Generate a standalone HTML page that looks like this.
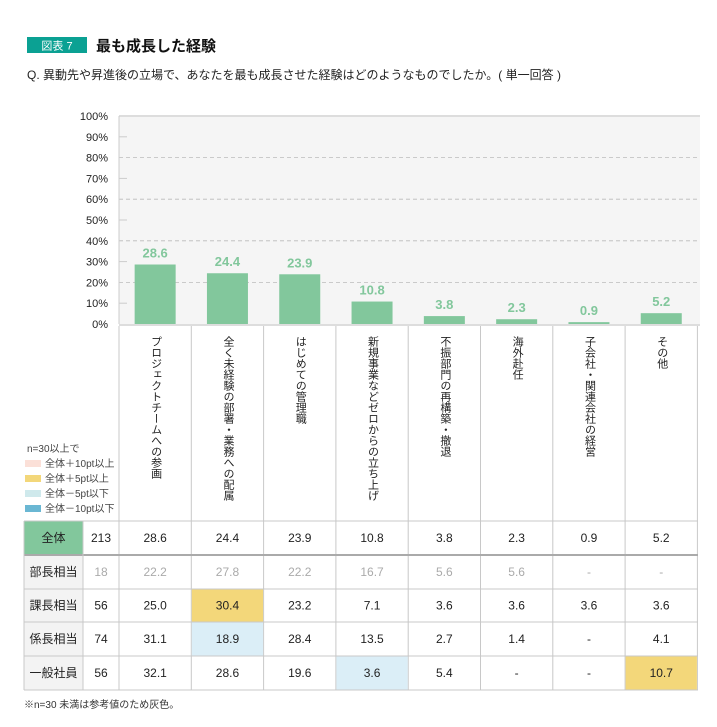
<!DOCTYPE html>
<html><head><meta charset="utf-8">
<style>
body{margin:0;background:#fff;}
#wrap{position:relative;width:717px;height:727px;overflow:hidden;font-family:"Liberation Sans","Noto Sans CJK JP",sans-serif;color:#222;}
.vl{position:absolute;writing-mode:vertical-rl;font-size:11px;line-height:13px;letter-spacing:0;color:#222;}
</style></head>
<body>
<div id="wrap">
<svg id="svg" width="717" height="727" style="position:absolute;left:0;top:0">
  <rect x="27" y="37" width="60" height="16" fill="#0ba193"/>
  <text x="57" y="49.5" font-size="11" fill="#fff" text-anchor="middle">図表 7</text>
  <text x="96" y="51" font-size="15" font-weight="bold" fill="#111">最も成長した経験</text>
  <text x="27" y="79" font-size="12" fill="#222">Q. 異動先や昇進後の立場で、あなたを最も成長させた経験はどのようなものでしたか。( 単一回答 )</text>
  <g id="plot"></g>
  <g id="table"></g>
  <g font-size="10" fill="#444">
    <text x="27" y="452">n=30以上で</text>
    <rect x="25" y="460" width="16" height="7" fill="#fbe0d8"/>
    <text x="45" y="467">全体＋10pt以上</text>
    <rect x="25" y="475" width="16" height="7" fill="#f3d77a"/>
    <text x="45" y="482">全体＋5pt以上</text>
    <rect x="25" y="490" width="16" height="7" fill="#cfe9ec"/>
    <text x="45" y="497">全体－5pt以下</text>
    <rect x="25" y="505" width="16" height="7" fill="#6ab7d3"/>
    <text x="45" y="512">全体－10pt以下</text>
  </g>
  <text x="24" y="708" font-size="10" fill="#333">※n=30 未満は参考値のため灰色。</text>
</svg>
<div id="labels"></div>
</div>
<script>
const categories=["プロジェクトチームへの参画","全く未経験の部署・業務への配属","はじめての管理職","新規事業などゼロからの立ち上げ","不振部門の再構築・撤退","海外赴任","子会社・関連会社の経営","その他"];
const totalValues=[28.6,24.4,23.9,10.8,3.8,2.3,0.9,5.2];
const yTicks=[0,10,20,30,40,50,60,70,80,90,100];
const rowLabels=["部長相当","課長相当","係長相当","一般社員"];
const rowN=[18,56,74,56];
const rowBucho=["22.2","27.8","22.2","16.7","5.6","5.6","-","-"];
const rowKacho=["25.0","30.4","23.2","7.1","3.6","3.6","3.6","3.6"];
const rowKakari=["31.1","18.9","28.4","13.5","2.7","1.4","-","4.1"];
const rowIppan=["32.1","28.6","19.6","3.6","5.4","-","-","10.7"];
const totalN=213;

const NS="http://www.w3.org/2000/svg";
const X0=119,X1=700,Y0=324,Y100=116,COLW=72.3;
const yS=v=>Y0-(Y0-Y100)*v/100;
const cx=i=>X0+COLW*(i+0.5);
function mk(parent,tag,attrs){const e=document.createElementNS(NS,tag);for(const k in attrs)e.setAttribute(k,attrs[k]);parent.appendChild(e);return e;}
const plot=document.getElementById('plot');
let bg=mk(plot,'rect',{x:X0,y:Y100,width:X1-X0,height:Y0-Y100,fill:'#f5f5f5'});


let tl=mk(plot,'line',{x1:X0,x2:X1,y1:Y100,y2:Y100,stroke:'#ddd','stroke-width':2});


yTicks.forEach(t=>{
  const y=yS(t);
  if(t>0&&t<100){
    let g;
    if(t%20===0) g=mk(plot,'line',{x1:X0,x2:X1,y1:y,y2:y,stroke:'#bbb','stroke-dasharray':'4,3','stroke-width':0.8});
    else g=mk(plot,'line',{x1:X0,x2:X0+8,y1:y,y2:y,stroke:'#ccc','stroke-width':1});
    
    
  }
  const tx=mk(plot,'text',{x:108,y:y+4,'font-size':11,fill:'#222','text-anchor':'end'});
  tx.textContent=t+'%';
  
  
});
totalValues.forEach((v,i)=>{
  const b=mk(plot,'rect',{x:cx(i)-20.5,y:yS(v),width:41,height:Y0-yS(v),fill:'#82c79c'});
  
  
  const t=mk(plot,'text',{x:cx(i),y:yS(v)-7,'font-size':13,'font-weight':'bold',fill:'#82c79c','text-anchor':'middle'});
  t.textContent=v.toFixed(1);
  
  
});
let ax=mk(plot,'line',{x1:X0,x2:X0,y1:Y100,y2:Y0,stroke:'#ccc'});


let bl=mk(plot,'line',{x1:X0,x2:X1,y1:Y0+1,y2:Y0+1,stroke:'#ddd','stroke-width':2});



const tbl=document.getElementById('table');
const rowsY=[521,555,589,622,656,690];
const L0=24,L1=83;
for(let i=0;i<=categories.length;i++){
  const x=X0+COLW*i;
  const l=mk(tbl,'line',{x1:x,x2:x,y1:Y0+2,y2:690,stroke:'#c8c8c8'});
  
  
}
let g0=mk(tbl,'rect',{x:L0,y:521,width:L1-L0,height:34,fill:'#82c79c'});


for(let r=1;r<5;r++){
  const c=mk(tbl,'rect',{x:L0,y:rowsY[r],width:L1-L0,height:rowsY[r+1]-rowsY[r],fill:'#f3f3f3'});
  
  
}
const rows=[rowBucho,rowKacho,rowKakari,rowIppan];
const highlight={"1-1":"#f3d77a","2-1":"#dbeef7","3-3":"#dbeef7","3-7":"#f3d77a"};
rows.forEach((row,r)=>row.forEach((v,i)=>{
  const k=r+'-'+i;
  if(highlight[k]){
    const h=mk(tbl,'rect',{x:X0+COLW*i+0.5,y:rowsY[r+1]+0.5,width:COLW-1,height:rowsY[r+2]-rowsY[r+1]-1,fill:highlight[k]});
    
    
  }
}));
rowsY.forEach((y,k)=>{
  const l=mk(tbl,'line',{x1:L0,x2:X1-2,y1:y,y2:y,stroke:k===1?'#aaa':'#c8c8c8','stroke-width':k===1?2:1});
  
  
});
[L0,L1].forEach(x=>{
  const l=mk(tbl,'line',{x1:x,x2:x,y1:521,y2:690,stroke:'#c8c8c8'});
  
  
});
function cellText(x,y,s,col,name){
  const t=mk(tbl,'text',{x:x,y:y,'font-size':12,fill:col,'text-anchor':'middle'});
  t.textContent=s;
  
  
}
cellText((L0+L1)/2,542,'全体','#222','row-label');
cellText((L1+X0)/2,542,String(totalN),'#222','n-value');
totalValues.forEach((v,i)=>cellText(cx(i),542,v.toFixed(1),'#222','cell-value'));
rows.forEach((row,r)=>{
  const y=(rowsY[r+1]+rowsY[r+2])/2+4;
  const col=r===0?'#aaa':'#222';
  cellText((L0+L1)/2,y,rowLabels[r],'#222','row-label');
  cellText((L1+X0)/2,y,String(rowN[r]),col,'n-value');
  row.forEach((v,i)=>cellText(cx(i),y,v,col,'cell-value'));
});
const lab=document.getElementById('labels');
categories.forEach((c,i)=>{
  const d=document.createElement('div');
  d.className='vl';
  d.style.left=(cx(i)-6.5)+'px';
  d.style.top='336px';
  d.textContent=c;
  
  
  lab.appendChild(d);
});
</script>
</body></html>
